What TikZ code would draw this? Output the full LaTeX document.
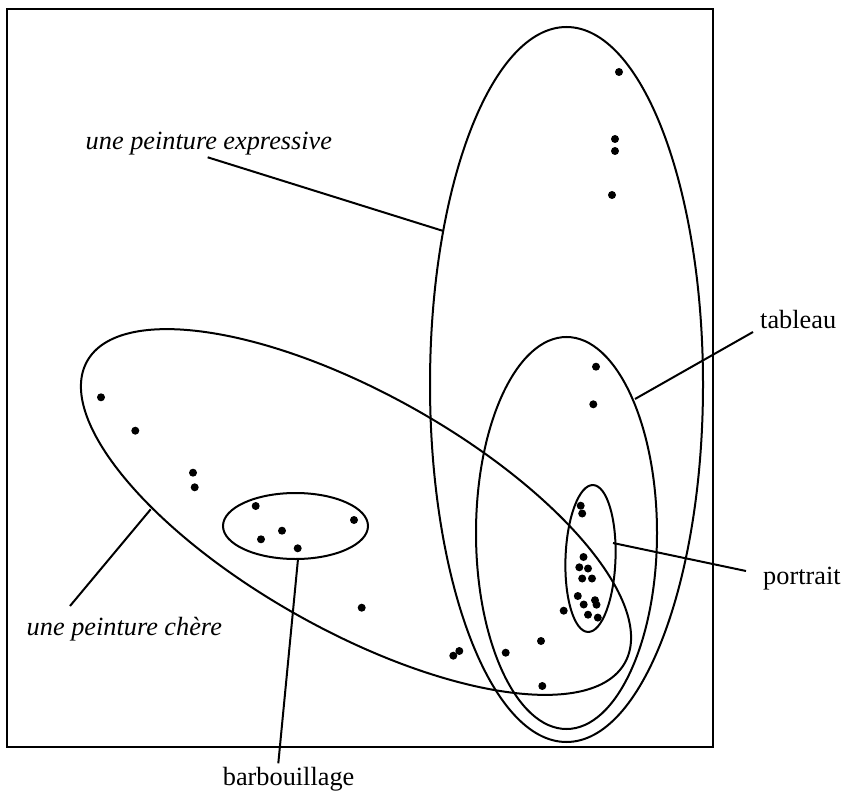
\documentclass[tikz,border=0pt]{standalone}
\usepackage{fontspec}
\setmainfont{Liberation Serif}
\begin{document}
\begin{tikzpicture}[x=1pt,y=-1pt,
  curve/.style={line width=2pt},
  leader/.style={line width=2pt},
  lbl/.style={anchor=base west,inner sep=0pt,font=\fontsize{26.3}{30}\selectfont},
  ilbl/.style={lbl,font=\fontsize{26.3}{30}\selectfont\itshape},
  pt/.style={fill=black,draw=none}]
\useasboundingbox (0,0) rectangle (843,794);
\draw[line width=2pt] (7,9) rectangle (713,747);
% ellipses
\draw[curve] (566.5,384.5) ellipse [x radius=136.5, y radius=357.5];
\draw[curve] (566.5,533) ellipse [x radius=90.5, y radius=196];
\draw[curve,rotate around={-2:(590.5,558.5)}] (590.5,558.5) ellipse [x radius=25, y radius=73.5];
\draw[curve] (295.5,526) ellipse [x radius=72.5, y radius=33];
\draw[curve,rotate around={-29.3:(356,512)}] (356,512) ellipse [x radius=308.3, y radius=118.5];
% dots
\foreach \p in {(619,72),(615,139),(615,151),(612,195),(596,366.7),(593.3,404.3),
  (580.7,505.7),(582.2,513.5),(583.5,557),(579.3,567.3),(588,568.5),(582.2,578.5),(592,578.5),
  (577.8,596),(583.7,604.5),(595,600.2),(596.5,604.7),(588,614.7),(597.8,617.6),(563.7,610.7),
  (541,641),(505.7,652.7),(542.3,686),(453.3,655.7),(459.3,651),(361.7,607.7),
  (101,397.3),(135.3,430.7),(193,472.7),(194.7,487.3),
  (255.7,506),(354,520),(282,530.7),(261,539.3),(297.7,548.3)}
  \fill[pt] \p circle[radius=4];
% labels
\node[ilbl] (lexpr) at (85.5,150) {une peinture expressive};
\node[ilbl] (lchere) at (26.5,635) {une peinture chère};
\node[lbl] (ltab) at (760,328) {tableau};
\node[lbl] (lport) at (763,584) {portrait};
\node[lbl] (lbarb) at (222.7,785) {barbouillage};
% leader coordinates
\coordinate (aexpr) at (207.7,157.3);
\coordinate (bexpr) at (443.3,231);
\coordinate (atab) at (753,332);
\coordinate (btab) at (635,399);
\coordinate (aport) at (746,571);
\coordinate (bport) at (613,543);
\coordinate (abarb) at (278.3,763.3);
\coordinate (bbarb) at (298,559);
\coordinate (achere) at (70,606);
\coordinate (bchere) at (150.7,509.3);
\draw[leader] (aexpr) -- (bexpr);
\draw[leader] (atab) -- (btab);
\draw[leader] (aport) -- (bport);
\draw[leader] (abarb) -- (bbarb);
\draw[leader] (achere) -- (bchere);
\end{tikzpicture}
\end{document}
